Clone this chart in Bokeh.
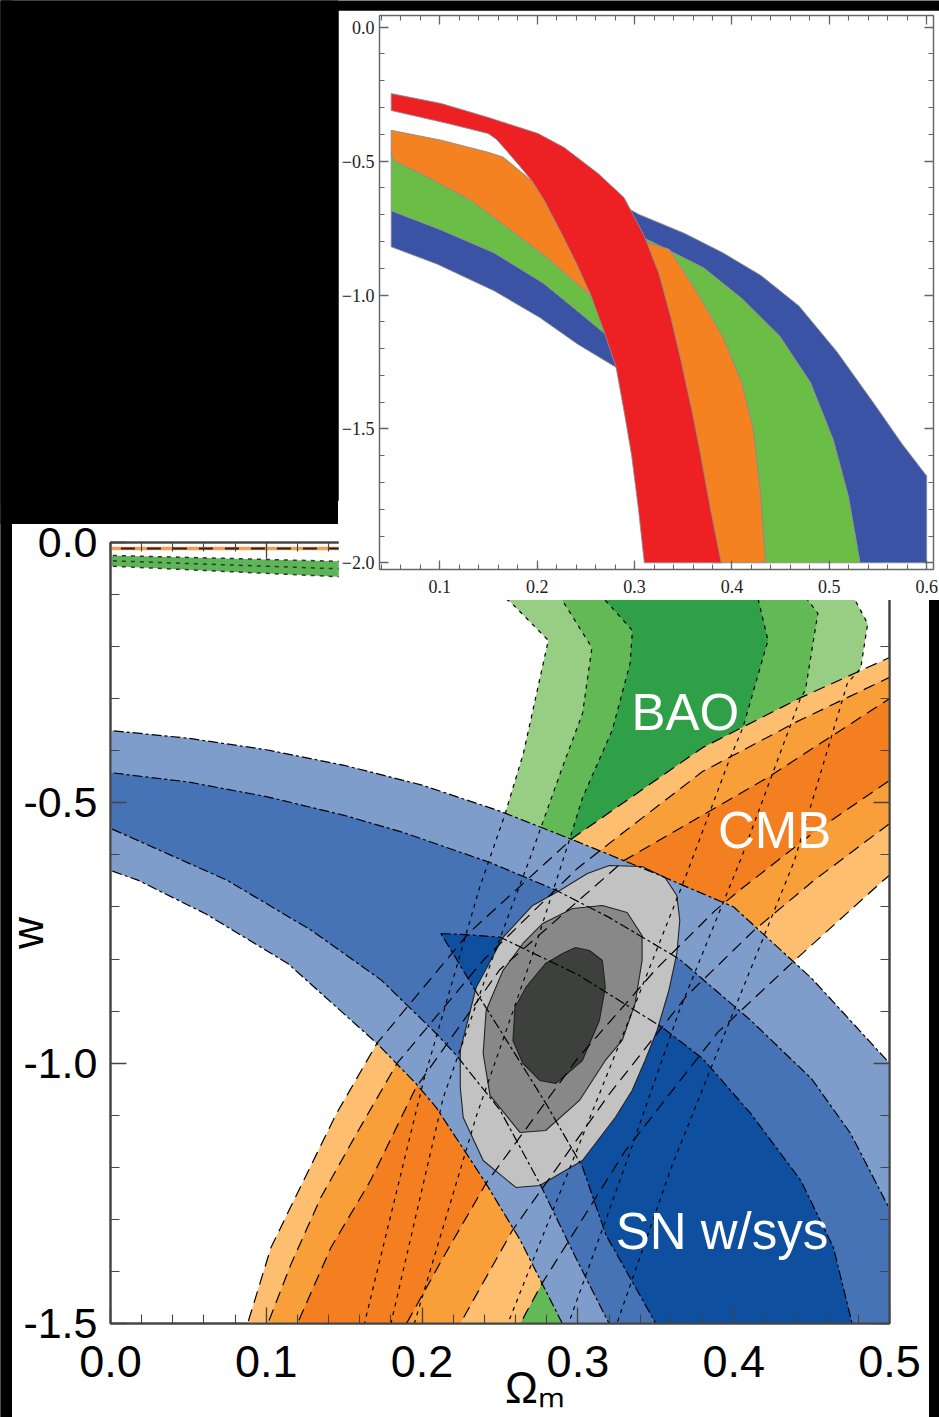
import math
from bokeh.plotting import figure
from bokeh.models import (Range1d, FixedTicker, CustomJSTickFormatter, LinearAxis, Label)
from bokeh.embed import file_html
from bokeh.resources import INLINE

# ================= MAIN PANEL DATA  (Omega_m, w) =================
# SN w/sys contours (3 sigma, 2 sigma edges and 1 sigma closed region)
sn3_up_x = [-0.01, 0.0, 0.05, 0.10, 0.15, 0.20, 0.25, 0.30, 0.35, 0.40, 0.45, 0.50, 0.51]
sn3_up_w = [-0.357, -0.361, -0.376, -0.398, -0.428, -0.466, -0.516, -0.575, -0.636, -0.700, -0.837, -1.000, -1.04]
sn3_lo_x = [-0.01, 0.0, 0.018, 0.040, 0.061, 0.114, 0.171, 0.196, 0.209, 0.241, 0.263, 0.277, 0.290, 0.306]
sn3_lo_w = [-0.617, -0.630, -0.649, -0.682, -0.713, -0.809, -0.962, -1.039, -1.085, -1.231, -1.340, -1.423, -1.500, -1.600]
sn2_up_x = [-0.01, 0.0, 0.05, 0.10, 0.15, 0.188, 0.244, 0.286, 0.32, 0.365, 0.411, 0.45, 0.475, 0.50, 0.51]
sn2_up_w = [-0.437, -0.442, -0.46, -0.488, -0.524, -0.557, -0.615, -0.668, -0.72, -0.80, -0.918, -1.03, -1.135, -1.28, -1.34]
sn2_lo_x = [-0.01, 0.0, 0.075, 0.129, 0.174, 0.209, 0.222, 0.25, 0.2755, 0.298, 0.32, 0.335]
sn2_lo_w = [-0.535, -0.549, -0.649, -0.745, -0.841, -0.943, -0.985, -1.09, -1.231, -1.37, -1.5, -1.6]
sn1_x = [0.212, 0.232, 0.25, 0.30, 0.354, 0.380, 0.411, 0.443, 0.464, 0.476, 0.48,
         0.36, 0.35, 0.318, 0.303, 0.28, 0.255, 0.233, 0.22]
sn1_w = [-0.751, -0.754, -0.758, -0.83, -0.931, -0.991, -1.097, -1.225, -1.354, -1.5, -1.6,
         -1.6, -1.5, -1.33, -1.20, -1.08, -0.96, -0.855, -0.79]

# BAO contours (left edge bottom->top, top, right edge top->bottom)
bao3_x = [0.150, 0.163, 0.201, 0.237, 0.253, 0.265, 0.281, 0.257, 0.24, 0.30, 0.42, 0.46,
          0.478, 0.486, 0.4815, 0.473, 0.439, 0.40, 0.36, 0.325, 0.315]
bao3_w = [-1.6, -1.5, -1.033, -0.662, -0.524, -0.405, -0.188, -0.115, -0.08, -0.04, -0.04, -0.07,
          -0.111, -0.156, -0.242, -0.27, -0.611, -0.90, -1.20, -1.5, -1.6]
bao2_x = [0.170, 0.180, 0.2136, 0.245, 0.27, 0.29, 0.303, 0.309, 0.290, 0.28, 0.33, 0.42,
          0.445, 0.454, 0.446, 0.443, 0.405, 0.365, 0.33, 0.294, 0.285]
bao2_w = [-1.6, -1.5, -1.066, -0.80, -0.60, -0.432, -0.328, -0.202, -0.111, -0.08, -0.05, -0.06,
          -0.10, -0.136, -0.284, -0.298, -0.605, -0.90, -1.20, -1.5, -1.6]
bao1_x = [0.185, 0.195, 0.235, 0.27, 0.295, 0.303, 0.322, 0.3335, 0.335, 0.3176, 0.31, 0.36,
          0.40, 0.415, 0.422, 0.406, 0.397, 0.369, 0.335, 0.295, 0.255, 0.245]
bao1_w = [-1.6, -1.5, -1.1, -0.80, -0.567, -0.49, -0.361, -0.232, -0.169, -0.111, -0.08, -0.06,
          -0.07, -0.10, -0.188, -0.355, -0.419, -0.643, -0.90, -1.2, -1.5, -1.6]

# CMB contours (upper-left edge and lower-right edge)
cmb3_ul_x = [0.078, 0.088, 0.103, 0.124, 0.145, 0.171, 0.23, 0.297, 0.380, 0.443, 0.50, 0.52]
cmb3_ul_w = [-1.6, -1.5, -1.354, -1.225, -1.097, -0.962, -0.75, -0.567, -0.394, -0.298, -0.221, -0.195]
cmb3_lr_x = [0.52, 0.496, 0.439, 0.39, 0.33, 0.277, 0.263, 0.255]
cmb3_lr_w = [-0.59, -0.649, -0.803, -0.94, -1.17, -1.423, -1.5, -1.6]
cmb2_ul_x = [0.092, 0.101, 0.116, 0.135, 0.158, 0.184, 0.24, 0.30, 0.33, 0.380, 0.44, 0.50, 0.52]
cmb2_ul_w = [-1.6, -1.5, -1.385, -1.258, -1.135, -1.0, -0.80, -0.625, -0.555, -0.44, -0.345, -0.259, -0.23]
cmb2_lr_x = [0.52, 0.50, 0.4515, 0.413, 0.37, 0.32, 0.258, 0.2245, 0.21]
cmb2_lr_w = [-0.50, -0.54, -0.649, -0.745, -0.87, -1.06, -1.321, -1.5, -1.6]
cmb1_ul_x = [0.112, 0.12, 0.1415, 0.167, 0.196, 0.25, 0.33, 0.422, 0.50, 0.52]
cmb1_ul_w = [-1.6, -1.5, -1.354, -1.225, -1.047, -0.82, -0.61, -0.451, -0.30, -0.265]
cmb1_lr_x = [0.52, 0.50, 0.45, 0.405, 0.388, 0.35, 0.30, 0.241, 0.2136, 0.19, 0.175]
cmb1_lr_w = [-0.42, -0.457, -0.56, -0.665, -0.707, -0.82, -0.99, -1.231, -1.373, -1.5, -1.6]

# Combined contours (grey)
all3_x = [0.3202, 0.3412, 0.3559, 0.3635, 0.3654, 0.3635, 0.3584, 0.3508, 0.3431, 0.3348, 0.3240,
          0.3029, 0.2755, 0.2602, 0.2392, 0.2264, 0.2245, 0.2245, 0.2347, 0.2519, 0.2710, 0.2883, 0.3061]
all3_w = [-0.6203, -0.6222, -0.6434, -0.6779, -0.7259, -0.7893, -0.8604, -0.9372, -0.9948, -1.0524, -1.1043,
          -1.1869, -1.2349, -1.2387, -1.1869, -1.1043, -1.0467, -0.9756, -0.8546, -0.7586, -0.6971, -0.6683, -0.6357]
all2_x = [0.3157, 0.3316, 0.3412, 0.3412, 0.3367, 0.3284, 0.3176, 0.3010, 0.2793, 0.2628, 0.2436,
          0.2392, 0.2411, 0.2519, 0.2647, 0.2774, 0.2966]
all2_w = [-0.6971, -0.7106, -0.7548, -0.8028, -0.8853, -0.9564, -0.9948, -1.0716, -1.1293, -1.1331, -1.0620,
          -0.9814, -0.8988, -0.8220, -0.7701, -0.7317, -0.7029]
all1_x = [0.2985, 0.3074, 0.3157, 0.3176, 0.3138, 0.3029, 0.2857, 0.2755, 0.2647, 0.2583, 0.2596,
          0.2666, 0.2793, 0.2902]
all1_w = [-0.7778, -0.7836, -0.8028, -0.8546, -0.9180, -0.9948, -1.0390, -1.0332, -1.0006, -0.9564, -0.8930,
          -0.8546, -0.8085, -0.7893]

# thin strip at the very top of the main panel
strip_x = [-0.01, 0.17]
strip_up_w = [-0.024, -0.038]
strip_mid_w = [-0.034, -0.053]
strip_lo_w = [-0.044, -0.069]
strip_line_w = [-0.0115, -0.0115]

# main axes
main_xticks = [0.0, 0.1, 0.2, 0.3, 0.4, 0.5]
main_xminor = [round(0.02 * i, 2) for i in range(26)]
main_yticks = [0.0, -0.5, -1.0, -1.5]
main_yminor = [round(-0.1 * i, 1) for i in range(16)]

# text labels (Omega_m, w)
lbl_bao = (0.369, -0.3265)
lbl_cmb = (0.4263, -0.553)
lbl_sn = (0.3925, -1.323)

# ================= INSET DATA  (Omega_m, w) =================
red_up_x = [0.05, 0.1015, 0.1497, 0.2009, 0.2276, 0.2625, 0.2891, 0.31, 0.325, 0.337, 0.348, 0.36, 0.368, 0.378, 0.389]
red_up_w = [-0.248, -0.285, -0.337, -0.397, -0.449, -0.546, -0.636, -0.78, -0.92, -1.08, -1.25, -1.45, -1.6, -1.8, -2.0]
red_lo_x = [0.05, 0.1087, 0.1497, 0.158, 0.167, 0.18, 0.195, 0.207, 0.225, 0.24, 0.255, 0.268, 0.281, 0.29, 0.297, 0.304, 0.31]
red_lo_w = [-0.311, -0.360, -0.397, -0.418, -0.455, -0.51, -0.575, -0.645, -0.77, -0.88, -1.0, -1.13, -1.27, -1.45, -1.6, -1.8, -2.0]

org_l_top_x = [0.05, 0.1015, 0.1497, 0.165, 0.21, 0.24, 0.262]
org_l_top_w = [-0.385, -0.422, -0.467, -0.485, -0.62, -0.80, -1.0]
grn_l_top_x = [0.05, 0.053, 0.09, 0.132, 0.17, 0.21, 0.2535, 0.27]
grn_l_top_w = [-0.468, -0.498, -0.565, -0.647, -0.75, -0.86, -0.998, -1.06]
blu_l_top_x = [0.05, 0.1008, 0.1556, 0.2065, 0.2496, 0.273, 0.29]
blu_l_top_w = [-0.685, -0.756, -0.842, -0.956, -1.084, -1.155, -1.21]
blu_l_bot_x = [0.05, 0.0969, 0.1556, 0.2026, 0.2417, 0.2809, 0.295]
blu_l_bot_w = [-0.82, -0.884, -0.984, -1.084, -1.184, -1.27, -1.31]

blu_r_top_x = [0.285, 0.3044, 0.3514, 0.3905, 0.4297, 0.4688, 0.508, 0.5471, 0.5745, 0.6, 0.6]
blu_r_top_w = [-0.66, -0.699, -0.770, -0.842, -0.927, -1.041, -1.213, -1.412, -1.555, -1.676, -2.0]
grn_r_top_x = [0.30, 0.324, 0.371, 0.410, 0.4493, 0.4806, 0.504, 0.5197, 0.5315]
grn_r_top_w = [-0.77, -0.813, -0.899, -1.013, -1.155, -1.327, -1.541, -1.755, -2.0]
org_r_top_x = [0.31, 0.3357, 0.3631, 0.3905, 0.41, 0.4218, 0.4297, 0.4344]
org_r_top_w = [-0.80, -0.83, -0.984, -1.155, -1.327, -1.498, -1.755, -2.0]
org_r_bot_x = [0.38, 0.37, 0.355, 0.34, 0.32]
org_r_bot_w = [-2.0, -1.8, -1.5, -1.2, -0.9]

inset_xticks = [0.1, 0.2, 0.3, 0.4, 0.5, 0.6]
inset_xminor = [round(0.02 * i, 2) for i in range(2, 31)]
inset_yticks = [0.0, -0.5, -1.0, -1.5, -2.0]
inset_yminor = [round(-0.1 * i, 1) for i in range(21)]

# ================= COLOURS =================
SN_C = ["#7f9dcb", "#4573b5", "#0e4fa0"]
BAO_C = ["#98cd84", "#63b955", "#2fa048"]
CMB_C = ["#fdbf6f", "#f99f3a", "#f47f20"]
GREY_C = ["#c2c2c2", "#888888", "#3e403e"]
IN_RED, IN_ORG, IN_GRN, IN_BLU = "#ed2024", "#f58220", "#6abd45", "#3a53a4"

SANS = "Liberation Sans"
SERIF = "Liberation Serif"


def place(left, top, z):
    return {"position": "absolute", "left": f"{left}px", "top": f"{top}px", "z-index": str(z)}


def black_box(w, h, left, top, z):
    f = figure(width=w, height=h, output_backend="svg", toolbar_location=None, tools="",
               x_axis_type=None, y_axis_type=None, min_border=0,
               background_fill_color="black", border_fill_color="black", outline_line_color=None,
               x_range=Range1d(0, 1), y_range=Range1d(0, 1), styles=place(left, top, z))
    f.grid.visible = False
    f.scatter([0.5], [0.5], size=1, fill_alpha=0, line_alpha=0)
    return f


# ================= BACKGROUND =================
bg = black_box(939, 1417, 0, 0, 0)


def style_axis(ax, ticks, minor, fmt_code, font, size, color, tick_in, minor_in,
               line_color, line_width, standoff):
    ax.ticker = FixedTicker(ticks=ticks, minor_ticks=minor)
    ax.formatter = CustomJSTickFormatter(code=fmt_code)
    ax.major_label_text_font = font
    ax.major_label_text_font_size = size
    ax.major_label_text_color = color
    ax.major_tick_in = tick_in
    ax.major_tick_out = 0
    ax.minor_tick_in = minor_in
    ax.minor_tick_out = 0
    ax.axis_line_color = line_color
    ax.axis_line_width = line_width
    ax.major_tick_line_color = line_color
    ax.minor_tick_line_color = line_color
    ax.major_tick_line_width = 1.3
    ax.minor_tick_line_width = 1.1
    ax.major_label_standoff = standoff


# ================= MAIN FIGURE =================
main = figure(width=929, height=917, output_backend="svg", toolbar_location=None, tools="",
              x_range=Range1d(0.0, 0.5), y_range=Range1d(-1.5, 0.0),
              min_border_left=105, min_border_right=40, min_border_top=42, min_border_bottom=94,
              background_fill_color="white", border_fill_color="white",
              outline_line_color="#555555", outline_line_width=2, styles=place(0, 500, 1))
main.grid.visible = False

# BAO fills
for xs, ws, c in [(bao3_x, bao3_w, BAO_C[0]), (bao2_x, bao2_w, BAO_C[1]), (bao1_x, bao1_w, BAO_C[2])]:
    main.patch(xs, ws, fill_color=c, line_color=None)
# top strip
main.patch(strip_x + strip_x[::-1], strip_up_w + strip_lo_w[::-1], fill_color="#5db656", line_color=None)
main.line(strip_x, strip_line_w, line_color="#f0a050", line_width=3.5)

# CMB fills
for ulx, ulw, lrx, lrw, c in [(cmb3_ul_x, cmb3_ul_w, cmb3_lr_x, cmb3_lr_w, CMB_C[0]),
                              (cmb2_ul_x, cmb2_ul_w, cmb2_lr_x, cmb2_lr_w, CMB_C[1]),
                              (cmb1_ul_x, cmb1_ul_w, cmb1_lr_x, cmb1_lr_w, CMB_C[2])]:
    main.patch(ulx + lrx, ulw + lrw, fill_color=c, line_color=None)

# SN fills
main.patch(sn3_up_x + [sn3_up_x[-1]] + sn3_lo_x[::-1], sn3_up_w + [sn3_lo_w[-1]] + sn3_lo_w[::-1],
           fill_color=SN_C[0], line_color=None)
main.patch(sn2_up_x + [sn2_up_x[-1]] + sn2_lo_x[::-1], sn2_up_w + [sn2_lo_w[-1]] + sn2_lo_w[::-1],
           fill_color=SN_C[1], line_color=None)
main.patch(sn1_x, sn1_w, fill_color=SN_C[2], line_color=None)

# combined contours
for xs, ws, c in [(all3_x, all3_w, GREY_C[0]), (all2_x, all2_w, GREY_C[1]), (all1_x, all1_w, GREY_C[2])]:
    main.patch(xs, ws, fill_color=c, line_color="#222222", line_width=1.1)

# contour lines
BAO_DASH, CMB_DASH, SN_DASH = "4 5", "12 7", "10 3 3 3"
for xs, ws in [(bao3_x, bao3_w), (bao2_x, bao2_w), (bao1_x, bao1_w)]:
    main.line(xs, ws, line_color="black", line_width=1.2, line_dash=BAO_DASH)
for ws in [strip_up_w, strip_mid_w, strip_lo_w]:
    main.line(strip_x, ws, line_color="#333333", line_width=1.5, line_dash=BAO_DASH)
main.line(strip_x, strip_line_w, line_color="#222222", line_width=2, line_dash="14 12")
for xs, ws in [(cmb3_ul_x, cmb3_ul_w), (cmb3_lr_x, cmb3_lr_w), (cmb2_ul_x, cmb2_ul_w),
               (cmb2_lr_x, cmb2_lr_w), (cmb1_ul_x, cmb1_ul_w), (cmb1_lr_x, cmb1_lr_w)]:
    main.line(xs, ws, line_color="black", line_width=1.2, line_dash=CMB_DASH)
for xs, ws in [(sn3_up_x, sn3_up_w), (sn3_lo_x, sn3_lo_w), (sn2_up_x, sn2_up_w), (sn2_lo_x, sn2_lo_w),
               (sn1_x + sn1_x[:1], sn1_w + sn1_w[:1])]:
    main.line(xs, ws, line_color="black", line_width=1.2, line_dash=SN_DASH)

# axes
AX_COL = "#444444"
xa = main.xaxis[0]
ya = main.yaxis[0]
style_axis(xa, main_xticks, main_xminor, "return tick.toFixed(1);", SANS, "45px", "black",
           16, 9, AX_COL, 2, 22)
style_axis(ya, main_yticks, main_yminor, "return tick.toFixed(1);", SANS, "43px", "black",
           16, 9, AX_COL, 2, 13)
NB = "\u00a0"
xa.axis_label = NB * 5 + "\u2009" + "Ω\u2098"
xa.axis_label_text_font = SANS
xa.axis_label_text_font_size = "44px"
xa.axis_label_text_font_style = "normal"
xa.axis_label_text_color = "black"
xa.axis_label_standoff = -17
ya.axis_label = "w"
ya.axis_label_text_font = SANS
ya.axis_label_text_font_size = "44px"
ya.axis_label_text_font_style = "normal"
ya.axis_label_text_color = "black"
ya.axis_label_standoff = -32

top_ax = LinearAxis()
style_axis(top_ax, main_xticks, main_xminor, "return '';", SANS, "0px", "black", 16, 9, AX_COL, 2, 0)
right_ax = LinearAxis()
style_axis(right_ax, main_yticks, main_yminor, "return '';", SANS, "0px", "black", 16, 9, AX_COL, 2, 0)
main.add_layout(top_ax, "above")
main.add_layout(right_ax, "right")

for (lx, ly), txt in [(lbl_bao, "BAO"), (lbl_cmb, "CMB"), (lbl_sn, "SN w/sys")]:
    main.add_layout(Label(x=lx, y=ly, text=txt, text_font=SANS, text_font_size="51px",
                          text_color="white", text_align="center", text_baseline="alphabetic"))

# black margins of the composite picture (cover everything above / left of the main panel)
strip_left = black_box(12, 1417, 0, 0, 2)
strip_top = black_box(338, 524, 0, 0, 2)

# ================= INSET FIGURE =================
inset = figure(width=601, height=590, output_backend="svg", toolbar_location=None, tools="",
               x_range=Range1d(0.038, 0.607), y_range=Range1d(-2.025, 0.0437),
               min_border_left=40, min_border_right=6, min_border_top=5, min_border_bottom=31,
               background_fill_color="white", border_fill_color="white",
               outline_line_color="#777777", outline_line_width=1.2, styles=place(338, 10, 3))
inset.grid.visible = False

EDGE = dict(line_color="#8c8c8c", line_width=0.9)
# blue
inset.patch(blu_l_top_x + blu_l_bot_x[::-1], blu_l_top_w + blu_l_bot_w[::-1], fill_color=IN_BLU, **EDGE)
inset.patch(blu_r_top_x + grn_r_top_x[::-1], blu_r_top_w + grn_r_top_w[::-1], fill_color=IN_BLU, **EDGE)
# green
inset.patch(grn_l_top_x + blu_l_top_x[::-1], grn_l_top_w + blu_l_top_w[::-1], fill_color=IN_GRN, **EDGE)
inset.patch(grn_r_top_x + org_r_top_x[::-1], grn_r_top_w + org_r_top_w[::-1], fill_color=IN_GRN, **EDGE)
# orange
inset.patch(org_l_top_x + grn_l_top_x[::-1], org_l_top_w + grn_l_top_w[::-1], fill_color=IN_ORG, **EDGE)
inset.patch(org_r_top_x + org_r_bot_x, org_r_top_w + org_r_bot_w, fill_color=IN_ORG, **EDGE)
# red
inset.patch(red_up_x + red_lo_x[::-1], red_up_w + red_lo_w[::-1], fill_color=IN_RED, **EDGE)

IN_AX = "#666666"
fmt_minus = "return tick.toFixed(1).replace('-', '\\u2212');"
style_axis(inset.xaxis[0], inset_xticks, inset_xminor, fmt_minus, SERIF, "18px", "#222222",
           9, 5, IN_AX, 1.3, 10)
style_axis(inset.yaxis[0], inset_yticks, inset_yminor, fmt_minus, SERIF, "18px", "#222222",
           9, 5, IN_AX, 1.3, 5)
in_top = LinearAxis()
style_axis(in_top, inset_xticks, inset_xminor, "return '';", SERIF, "0px", "#222222", 9, 5, IN_AX, 1.3, 0)
in_right = LinearAxis()
style_axis(in_right, inset_yticks, inset_yminor, "return '';", SERIF, "0px", "#222222", 9, 5, IN_AX, 1.3, 0)
inset.add_layout(in_top, "above")
inset.add_layout(in_right, "right")

open("out.html", "w").write(file_html([bg, main, strip_left, strip_top, inset], INLINE))
